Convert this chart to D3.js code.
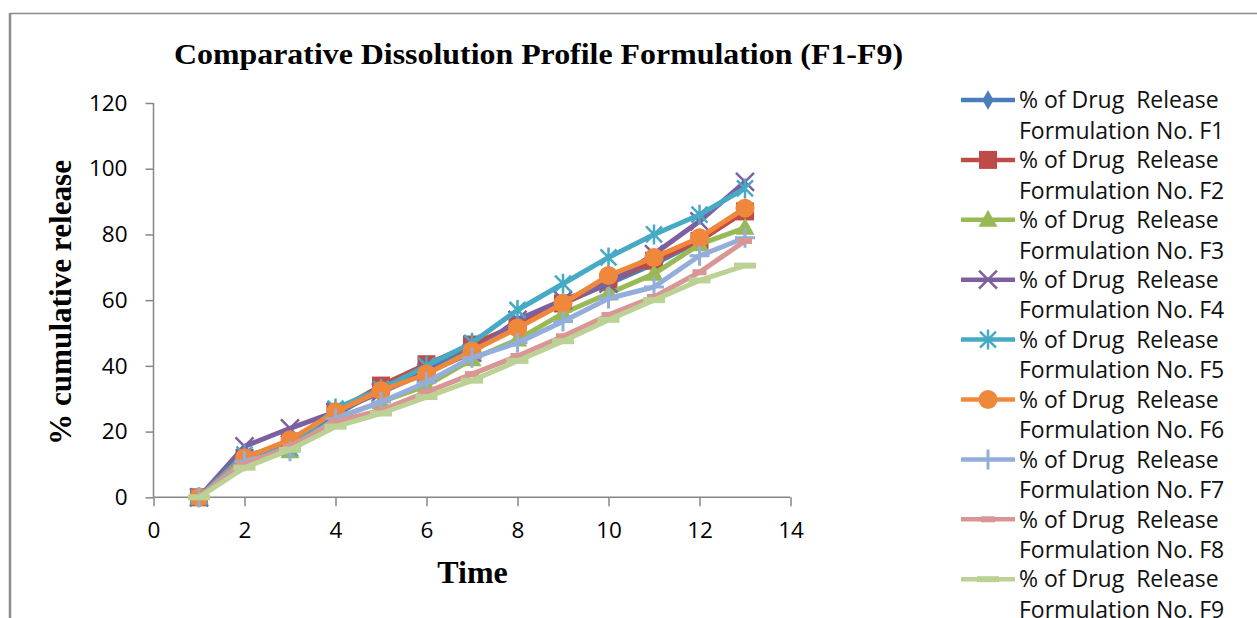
<!DOCTYPE html>
<html><head><meta charset="utf-8">
<script src="https://cdn.jsdelivr.net/npm/d3@7"></script>
<style>
html,body{margin:0;padding:0;background:#fff;}
svg{display:block;}
</style></head>
<body>
<svg id="chart" width="1257" height="618"></svg>
<script>
// ---- data ----
const time = [1,2,3,4,5,6,7,8,9,10,11,12,13];
const F1 = [0, 12, 17, 25, 33, 39, 45, 52, 59, 65, 71, 78, 88];
const F2 = [0, 12, 17, 26, 34, 40.5, 46.5, 52.5, 59, 65.5, 72, 78, 87];
const F3 = [0, 11, 14, 24, 29, 34, 42, 48, 56, 62, 68, 77, 82];
const F4 = [0, 15.5, 21, 26, 32, 38, 44, 54, 60, 65, 74, 84, 96];
const F5 = [0, 13, 15, 27, 33, 40, 47, 57, 65, 73, 80, 86, 94];
const F6 = [0, 12, 17.5, 26, 32.5, 37.5, 44.5, 51.5, 59, 67.5, 73, 79, 88];
const F7 = [0, 11, 14, 24, 29, 35, 42.5, 47, 53.5, 60.5, 64, 73.5, 79];
const F8 = [0, 10, 15.5, 23, 26.5, 32, 37.5, 43, 49, 55.5, 61, 68.5, 78];
const F9 = [0, 9, 14.5, 21.5, 25.5, 30.5, 35.5, 41.5, 47.5, 54, 60, 66, 70.5];
const seriesNames = ["F1","F2","F3","F4","F5","F6","F7","F8","F9"];
const seriesValues = [F1,F2,F3,F4,F5,F6,F7,F8,F9];
const xTicks = [0,2,4,6,8,10,12,14];
const yTicks = [0,20,40,60,80,100,120];
const titleText = "Comparative Dissolution Profile Formulation (F1-F9)";
const xLabel = "Time";
const yLabel = "% cumulative release";
const legendLine1 = "% of Drug\u00A0\u00A0Release";
const legendLine2Prefix = "Formulation No. ";

// ---- styles ----
const colors = ["#4A7EBB","#BE4B48","#98B954","#7D60A0","#46AAC5","#F0883C","#93AEDA","#D99694","#BCD295"];
const markers = ["diamond","square","triangle","x","star","circle","plus","dashShort","dashLong"];

const svg = d3.select("#chart");

// chart frame
svg.append("line").attr("x1",10).attr("y1",13.5).attr("x2",1257).attr("y2",13.5)
  .attr("stroke","#8c8c8c").attr("stroke-width",1.5);
svg.append("line").attr("x1",10).attr("y1",13).attr("x2",10).attr("y2",618)
  .attr("stroke","#8c8c8c").attr("stroke-width",2.5);

const x = d3.scaleLinear().domain([0,14]).range([153.5,790.5]);
const y = d3.scaleLinear().domain([0,120]).range([497.3,103]);

// axes
const axisColor = "#868686";
const gy = svg.append("g").attr("transform",`translate(${x(0)},0)`)
  .call(d3.axisLeft(y).tickValues(yTicks).tickSize(8).tickPadding(18).tickFormat(d3.format("d")));
const gx = svg.append("g").attr("transform",`translate(0,${y(0)})`)
  .call(d3.axisBottom(x).tickValues(xTicks).tickSize(9).tickPadding(16).tickFormat(d3.format("d")));
[gx,gy].forEach(g=>{
  g.select(".domain").attr("stroke",axisColor).attr("stroke-width",1.5);
  g.selectAll(".tick line").attr("stroke",axisColor).attr("stroke-width",1.5);
  g.selectAll(".tick text").attr("fill","#000").style("font-family","'Open Sans', sans-serif").style("font-size","22.5px");
});
gx.select(".domain").attr("d",`M${x(0)},0H${x(14)}`);
gy.select(".domain").attr("d",`M0,${y(120)}V${y(0)}`);

// titles
svg.append("text").attr("x",538.5).attr("y",64).attr("text-anchor","middle")
  .attr("textLength",729).attr("lengthAdjust","spacingAndGlyphs")
  .style("font-family","'Liberation Serif', 'Times New Roman', serif").style("font-weight","bold")
  .style("font-size","30px").text(titleText);
svg.append("text").attr("x",472.5).attr("y",583).attr("text-anchor","middle")
  .style("font-family","'Liberation Serif', serif").style("font-weight","bold")
  .style("font-size","32px").text(xLabel);
svg.append("text").attr("transform","translate(71,302.5) rotate(-90)").attr("text-anchor","middle")
  .attr("textLength",285).attr("lengthAdjust","spacingAndGlyphs")
  .style("font-family","'Liberation Serif', serif").style("font-weight","bold")
  .style("font-size","31px").text(yLabel);

// marker drawing
function drawMarker(g, type, color){
  switch(type){
    case "diamond":
      g.append("path").attr("d",d3.symbol().type(d3.symbolDiamond).size(110)()).attr("fill",color);
      break;
    case "square":
      g.append("rect").attr("x",-9).attr("y",-9).attr("width",18).attr("height",18).attr("fill",color);
      break;
    case "triangle":
      g.append("path").attr("d","M0,-10L9.5,7L-9.5,7Z").attr("fill",color);
      break;
    case "x":
      g.append("path").attr("d","M-9,-9L9,9M-9,9L9,-9").attr("stroke",color).attr("stroke-width",2.5).attr("fill","none");
      break;
    case "star":
      g.append("path").attr("d","M-8,-8L8,8M-8,8L8,-8M0,-10V10").attr("stroke",color).attr("stroke-width",2.5).attr("fill","none");
      break;
    case "circle":
      g.append("circle").attr("r",9.5).attr("fill",color);
      break;
    case "plus":
      g.append("path").attr("d","M0,-10V10M-10,0H10").attr("stroke",color).attr("stroke-width",3).attr("fill","none");
      break;
    case "dashShort":
      g.append("rect").attr("x",-7).attr("y",-3).attr("width",14).attr("height",6).attr("fill",color);
      break;
    case "dashLong":
      g.append("rect").attr("x",-11).attr("y",-3).attr("width",22).attr("height",6).attr("fill",color);
      break;
  }
}

const line = d3.line().x(d=>x(d[0])).y(d=>y(d[1]));
const plot = svg.append("g");
seriesValues.forEach((vals,i)=>{
  const pts = time.map((t,j)=>[t,vals[j]]);
  const sg = plot.append("g");
  sg.append("path").attr("d",line(pts)).attr("fill","none").attr("stroke",colors[i])
    .attr("stroke-width",5).attr("stroke-linejoin","round");
  pts.forEach(p=>{
    const mg = sg.append("g").attr("transform",`translate(${x(p[0])},${y(p[1])})`);
    drawMarker(mg, markers[i], colors[i]);
  });
});

// legend
const lg = svg.append("g");
seriesNames.forEach((name,i)=>{
  const cy = 100 + i*59.9;
  const g = lg.append("g").attr("transform",`translate(0,${cy})`);
  g.append("line").attr("x1",961).attr("x2",1015).attr("y1",0).attr("y2",0)
    .attr("stroke",colors[i]).attr("stroke-width",4.5);
  const mg = g.append("g").attr("transform","translate(988,0)");
  drawMarker(mg, markers[i], colors[i]);
  const t = g.append("text").attr("x",1019).attr("y",0)
    .style("font-family","'Open Sans', sans-serif").style("font-size","23px").attr("fill","#111");
  t.append("tspan").attr("x",1019).attr("dy","0.36em").text(legendLine1);
  t.append("tspan").attr("x",1019).attr("dy","30.5").text(legendLine2Prefix + name);
});
</script>
</body></html>
